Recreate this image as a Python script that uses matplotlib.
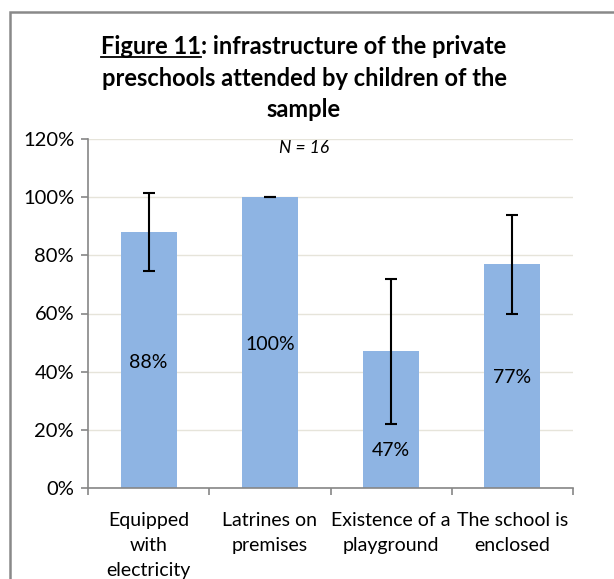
import matplotlib.pyplot as plt
from matplotlib.lines import Line2D
from matplotlib.patches import Rectangle
from matplotlib.ticker import PercentFormatter
import numpy as np

plt.rcParams['font.family'] = ['Lato', 'DejaVu Sans']

# --- DATA ---
categories = ['Equipped\nwith\nelectricity', 'Latrines on\npremises',
              'Existence of a\nplayground', 'The school is\nenclosed']
values = [88, 100, 47, 77]
errors = [13.5, 0, 25, 17]
value_labels = ['88%', '100%', '47%', '77%']
label_y = [43, 49.5, 13, 38]
y_ticks = [0, 20, 40, 60, 80, 100, 120]

BAR_COLOR = '#8EB4E3'
AXIS_COLOR = '#868686'
GRID_COLOR = '#E6E4DA'
TITLE_FS = 17

fig = plt.figure(figsize=(6.14, 5.79), dpi=100)
ax = fig.add_axes([88/614, 1 - 488/579, (573 - 88)/614, (488 - 139)/579])

x = np.arange(len(categories))
ax.bar(x, values, width=0.46, color=BAR_COLOR, zorder=2)
ax.errorbar(x, values, yerr=errors, fmt='none', ecolor='black',
            elinewidth=1.5, capsize=4.2, capthick=1.5, zorder=3)

for xi, ly, lab in zip(x, label_y, value_labels):
    ax.text(xi, ly, lab, ha='center', va='center', fontsize=14, zorder=4)

ax.set_xlim(-0.5, len(categories) - 0.5)
ax.set_ylim(0, 120)
ax.set_yticks(y_ticks)
ax.yaxis.set_major_formatter(PercentFormatter(decimals=0))
ax.set_xticks(np.arange(len(categories) + 1) - 0.5)
ax.set_xticklabels([])
ax.set_xticks(x, minor=True)
ax.set_xticklabels(categories, minor=True, fontsize=14, linespacing=1.6)
ax.tick_params(axis='x', which='minor', length=0, pad=17)
ax.tick_params(axis='x', which='major', length=5, color=AXIS_COLOR, width=1.2)
ax.tick_params(axis='y', length=5, color=AXIS_COLOR, width=1.2, labelsize=14.5, pad=5)

ax.grid(axis='y', color=GRID_COLOR, lw=1, zorder=0)
ax.set_axisbelow(True)
for s in ['top', 'right']:
    ax.spines[s].set_visible(False)
for s in ['left', 'bottom']:
    ax.spines[s].set_color(AXIS_COLOR)
    ax.spines[s].set_linewidth(1.2)

fig.text(304 / 614, 1 - 148 / 579, 'N = 16', ha='center', va='center',
         fontsize=12.5, style='italic')

# --- TITLE with underlined "Figure 11" ---
cx = 304 / 614
line1_y = 1 - 47 / 579
t1 = fig.text(cx, line1_y, 'Figure 11: infrastructure of the private', ha='center',
              va='center', fontsize=TITLE_FS, fontweight='bold')
fig.text(cx, 1 - 79 / 579, 'preschools attended by children of the', ha='center',
         va='center', fontsize=TITLE_FS, fontweight='bold')
fig.text(cx, 1 - 110 / 579, 'sample', ha='center', va='center',
         fontsize=TITLE_FS, fontweight='bold')

fig.canvas.draw()
r = fig.canvas.get_renderer()
bb = t1.get_window_extent(r)
tmp = fig.text(0, 0, 'Figure 11', fontsize=TITLE_FS, fontweight='bold')
w = tmp.get_window_extent(r).width
tmp.remove()
W, H = fig.bbox.width, fig.bbox.height
uy = (bb.y0 + 1.5) / H
fig.add_artist(Line2D([bb.x0 / W, (bb.x0 + w) / W], [uy, uy], color='black',
                      lw=1.3, transform=fig.transFigure))

# --- outer frame (partially visible) ---
fig.add_artist(Rectangle((10 / 614, -0.2), 1.2, 1.2 - 12 / 579, fill=False,
                         edgecolor='#898989', lw=1.8, transform=fig.transFigure))

fig.savefig('out.png', dpi=100)
